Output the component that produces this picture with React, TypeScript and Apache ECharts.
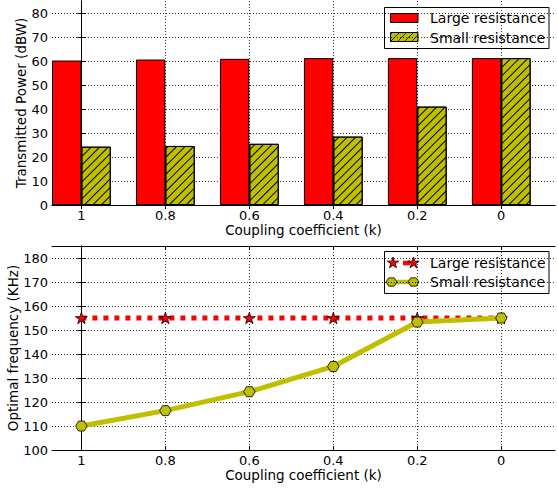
import React, { useEffect, useRef } from "react";
import * as echarts from "echarts";

const kLabels = ["1", "0.8", "0.6", "0.4", "0.2", "0"];
const kPositions = [0, 1, 2, 3, 4, 5];
const powerLarge = [60.2, 60.6, 60.9, 61.2, 61.2, 61.2];
const powerSmall = [24.3, 24.6, 25.5, 28.5, 41.0, 61.2];
const freqLarge = [155, 155, 155, 155, 155, 155];
const freqSmall = [110.0, 116.4, 124.3, 134.8, 153.3, 155.0];
const powerTicks = [0, 10, 20, 30, 40, 50, 60, 70, 80];
const freqTicks = [100, 110, 120, 130, 140, 150, 160, 170, 180];
const seriesNames = ["Large resistance", "Small resistance"];

const FONT = "DejaVu Sans";
const RED = "#ff0000";
const OLIVE = "#bfbf00";

function starPts(cx: number, cy: number, r: number): number[][] {
  const pts: number[][] = [];
  for (let k = 0; k < 10; k++) {
    const rr = k % 2 ? r * 0.382 : r;
    const a = -Math.PI / 2 + (k * Math.PI) / 5;
    pts.push([cx + rr * Math.cos(a), cy + rr * Math.sin(a)]);
  }
  return pts;
}
function hexPts(cx: number, cy: number, rx: number, ry: number): number[][] {
  const pts: number[][] = [];
  for (let k = 0; k < 6; k++) {
    const a = (k * Math.PI) / 3;
    pts.push([cx + rx * Math.cos(a), cy + ry * Math.sin(a)]);
  }
  return pts;
}
function toPath(pts: number[][]): string {
  return (
    "path://" +
    pts.map((p, i) => (i ? "L" : "M") + p[0].toFixed(3) + " " + p[1].toFixed(3)).join(" ") +
    " Z"
  );
}
const STAR = toPath(starPts(0, 0, 10));
const HEX = toPath(hexPts(0, 0, 10, 8.66));

function hatchLines(x0: number, y0: number, w: number, h: number, step: number) {
  const out: any[] = [];
  for (let c = -h + 2; c < w; c += step) {
    let sx = x0 + c, sy = y0 + h, ex = x0 + c + h, ey = y0;
    if (sx < x0) { const t = x0 - sx; sx = x0; sy -= t; }
    if (ex > x0 + w) { const t = ex - (x0 + w); ex -= t; ey += t; }
    if (sx < ex) out.push({ type: "line", shape: { x1: sx, y1: sy, x2: ex, y2: ey }, style: { stroke: "#000", lineWidth: 0.8 } });
  }
  return out;
}

export default function App() {
  const ref = useRef<HTMLDivElement>(null);
  useEffect(() => {
    const chart = echarts.init(ref.current!, null, { renderer: "svg" });
    const splitLine = { show: true, lineStyle: { color: "#000", width: 0.8, type: [1, 2] } };
    const axisLine = { show: true, lineStyle: { color: "#000", width: 1 } };
    const tickFont = { color: "#000", fontSize: 13, fontFamily: FONT };
    const nameFont = { color: "#000", fontSize: 13.5, fontFamily: FONT };
    const mkX = (grid: number) => [
      {
        type: "value", gridIndex: grid, min: -0.35, max: 5.64, position: "bottom",
        axisLine,
        axisTick: { show: true, inside: true, length: 4, customValues: kPositions, lineStyle: { color: "#000" } },
        axisLabel: { customValues: kPositions, formatter: (v: number) => kLabels[Math.round(v)], ...tickFont, margin: 4 },
        splitLine,
        name: "Coupling coefficient (k)", nameLocation: "middle", nameGap: 18, nameMoveOverlap: false,
        nameTextStyle: nameFont,
      },
      {
        type: "value", gridIndex: grid, min: -0.35, max: 5.64, position: "top",
        axisLine,
        axisTick: { show: true, inside: true, length: 4, customValues: kPositions, lineStyle: { color: "#000" } },
        axisLabel: { show: false, customValues: kPositions },
        splitLine: { show: false },
      },
    ];
    const mkY = (grid: number, min: number, max: number, ticks: number[], name: string, gap: number) => [
      {
        type: "value", gridIndex: grid, min, max, position: "left",
        axisLine,
        axisTick: { show: true, inside: true, length: 4, customValues: ticks, lineStyle: { color: "#000" } },
        axisLabel: { customValues: ticks, ...tickFont, margin: 4 },
        splitLine,
        name, nameLocation: "middle", nameGap: gap, nameMoveOverlap: false,
        nameTextStyle: nameFont,
      },
      {
        type: "value", gridIndex: grid, min, max, position: "right",
        axisLine,
        axisTick: { show: true, inside: true, length: 4, customValues: ticks, lineStyle: { color: "#000" } },
        axisLabel: { show: false, customValues: ticks },
        splitLine: { show: false },
      },
    ];

    const lf = { fill: "#000", fontSize: 14, fontFamily: FONT, verticalAlign: "middle" };
    const legendTop = [
      { type: "rect", shape: { x: 384.5, y: 7.5, width: 164.5, height: 41 }, style: { fill: "#fff", stroke: "#000", lineWidth: 1 } },
      { type: "rect", shape: { x: 390.5, y: 13.5, width: 27.5, height: 9 }, style: { fill: RED, stroke: "#000", lineWidth: 1 } },
      { type: "rect", shape: { x: 390.5, y: 32.5, width: 27.5, height: 9 }, style: { fill: OLIVE, stroke: "#000", lineWidth: 1 } },
      ...hatchLines(390.5, 32.5, 27.5, 9, 7),
      { type: "text", x: 430, y: 18, style: { text: seriesNames[0], ...lf } },
      { type: "text", x: 430, y: 37.5, style: { text: seriesNames[1], ...lf } },
    ];
    const legendBottom = [
      { type: "rect", shape: { x: 384.5, y: 251.5, width: 164.5, height: 42 }, style: { fill: "#fff", stroke: "#000", lineWidth: 1 } },
      { type: "line", shape: { x1: 403, y1: 263, x2: 410, y2: 263 }, style: { stroke: RED, lineWidth: 4.5 } },
      { type: "polygon", shape: { points: starPts(393, 263, 6) }, style: { fill: RED, stroke: "#000", lineWidth: 0.8 } },
      { type: "polygon", shape: { points: starPts(413.5, 263, 6) }, style: { fill: RED, stroke: "#000", lineWidth: 0.8 } },
      { type: "line", shape: { x1: 392, y1: 282, x2: 413, y2: 282 }, style: { stroke: OLIVE, lineWidth: 4.5 } },
      { type: "polygon", shape: { points: hexPts(391.5, 282, 5.5, 4.8) }, style: { fill: OLIVE, stroke: "#000", lineWidth: 0.8 } },
      { type: "polygon", shape: { points: hexPts(413.5, 282, 5.5, 4.8) }, style: { fill: OLIVE, stroke: "#000", lineWidth: 0.8 } },
      { type: "text", x: 430, y: 263, style: { text: seriesNames[0], ...lf } },
      { type: "text", x: 430, y: 282, style: { text: seriesNames[1], ...lf } },
    ];

    chart.setOption({
      animation: false,
      backgroundColor: "#fff",
      textStyle: { fontFamily: FONT },
      grid: [
        { left: 52, top: 1, width: 503, height: 204, outerBoundsMode: "none", containLabel: false },
        { left: 52, top: 246, width: 503, height: 204, outerBoundsMode: "none", containLabel: false },
      ],
      xAxis: [...mkX(0), ...mkX(1)],
      yAxis: [
        ...mkY(0, 0, 85, powerTicks, "Transmitted Power (dBW)", 24),
        ...mkY(1, 100, 185, freqTicks, "Optimal frequency (KHz)", 32),
      ],
      series: [
        {
          type: "bar", name: seriesNames[0], xAxisIndex: 0, yAxisIndex: 0,
          data: powerLarge.map((v, i) => [kPositions[i], v]),
          barWidth: 29.4, barGap: "0%",
          itemStyle: { color: RED, borderColor: "#000", borderWidth: 1 },
        },
        {
          type: "bar", name: seriesNames[1], xAxisIndex: 0, yAxisIndex: 0,
          data: powerSmall.map((v, i) => [kPositions[i], v]),
          barWidth: 29.4, barGap: "0%",
          itemStyle: {
            color: OLIVE, borderColor: "#000", borderWidth: 1,
            decal: { symbol: "rect", symbolSize: 1, dashArrayX: [1, 0], dashArrayY: [1, 5], rotation: -Math.PI / 4, color: "#000" },
          },
        },
        {
          type: "line", name: seriesNames[0], xAxisIndex: 2, yAxisIndex: 2,
          data: freqLarge.map((v, i) => [kPositions[i], v]),
          symbol: STAR, symbolSize: [12, 11.4],
          lineStyle: { color: RED, width: 5, type: [5, 6] },
          itemStyle: { color: RED, borderColor: "#000", borderWidth: 0.8 },
          z: 2,
        },
        {
          type: "line", name: seriesNames[1], xAxisIndex: 2, yAxisIndex: 2,
          data: freqSmall.map((v, i) => [kPositions[i], v]),
          symbol: HEX, symbolSize: [11.5, 10],
          lineStyle: { color: OLIVE, width: 5 },
          itemStyle: { color: OLIVE, borderColor: "#000", borderWidth: 0.8 },
          z: 3,
        },
      ],
      graphic: [...legendTop, ...legendBottom],
    });
    return () => chart.dispose();
  }, []);
  return <div ref={ref} style={{ position: "fixed", left: 0, top: 0, width: 558, height: 488 }} />;
}
